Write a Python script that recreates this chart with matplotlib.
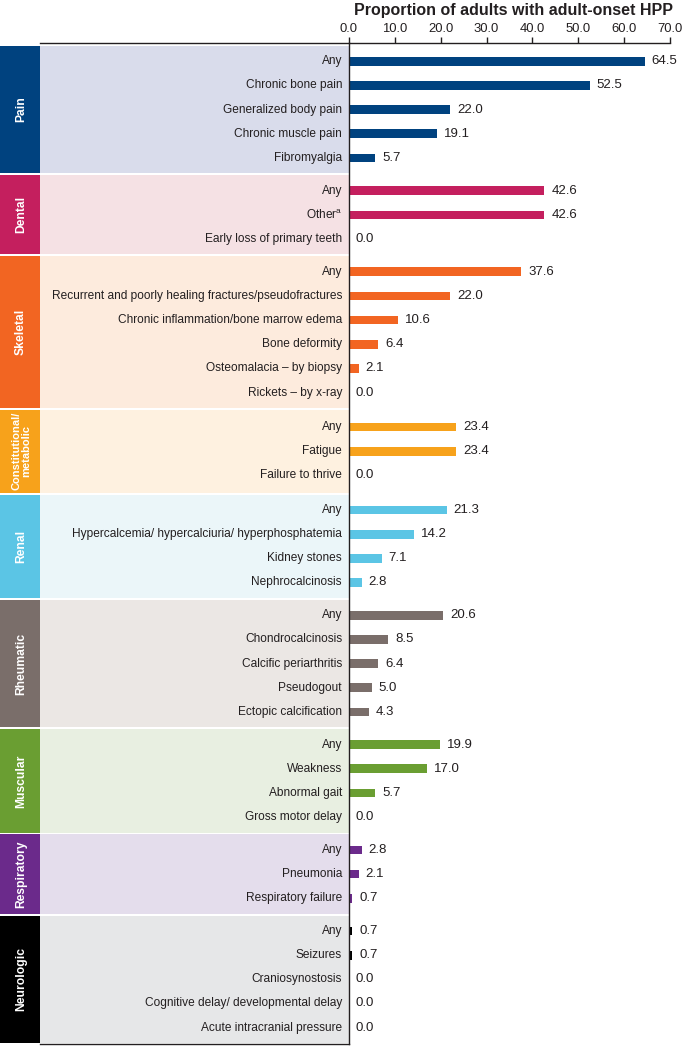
"""Adult-onset HPP: proportion of adults per symptom, grouped by body system."""
import matplotlib
matplotlib.use("Agg")
import matplotlib.pyplot as plt
from matplotlib.patches import Rectangle
import numpy as np

plt.rcParams["font.family"] = ["Liberation Sans", "DejaVu Sans"]
plt.rcParams["mathtext.fontset"] = "custom"
plt.rcParams["mathtext.rm"] = "Liberation Sans"

TEXT = "#231f20"

# ── data ─────────────────────────────────────────────────────────────────────
groups = ["Pain", "Dental", "Skeletal", "Constitutional/\nmetabolic", "Renal",
          "Rheumatic", "Muscular", "Respiratory", "Neurologic"]

pain_labels = ["Any", "Chronic bone pain", "Generalized body pain",
               "Chronic muscle pain", "Fibromyalgia"]
pain_vals = [64.5, 52.5, 22.0, 19.1, 5.7]

dental_labels = ["Any", "Other$^{\\mathrm{a}}$", "Early loss of primary teeth"]
dental_vals = [42.6, 42.6, 0.0]

skeletal_labels = ["Any", "Recurrent and poorly healing fractures/pseudofractures",
                   "Chronic inflammation/bone marrow edema", "Bone deformity",
                   "Osteomalacia – by biopsy", "Rickets – by x-ray"]
skeletal_vals = [37.6, 22.0, 10.6, 6.4, 2.1, 0.0]

constit_labels = ["Any", "Fatigue", "Failure to thrive"]
constit_vals = [23.4, 23.4, 0.0]

renal_labels = ["Any", "Hypercalcemia/ hypercalciuria/ hyperphosphatemia",
                "Kidney stones", "Nephrocalcinosis"]
renal_vals = [21.3, 14.2, 7.1, 2.8]

rheum_labels = ["Any", "Chondrocalcinosis", "Calcific periarthritis",
                "Pseudogout", "Ectopic calcification"]
rheum_vals = [20.6, 8.5, 6.4, 5.0, 4.3]

muscular_labels = ["Any", "Weakness", "Abnormal gait", "Gross motor delay"]
muscular_vals = [19.9, 17.0, 5.7, 0.0]

resp_labels = ["Any", "Pneumonia", "Respiratory failure"]
resp_vals = [2.8, 2.1, 0.7]

neuro_labels = ["Any", "Seizures", "Craniosynostosis",
                "Cognitive delay/ developmental delay", "Acute intracranial pressure"]
neuro_vals = [0.7, 0.7, 0.0, 0.0, 0.0]

dark = ["#00427f", "#c41f5e", "#f26522", "#f7a21b", "#5bc5e5",
        "#7a6e6a", "#6a9e32", "#6b2a8b", "#000000"]
light = ["#d9dceb", "#f5e1e4", "#fdebdd", "#fef1e0", "#ebf6f9",
         "#ebe7e4", "#e8efe1", "#e4ddec", "#e6e7e8"]

all_labels = [pain_labels, dental_labels, skeletal_labels, constit_labels,
              renal_labels, rheum_labels, muscular_labels, resp_labels, neuro_labels]
all_vals = [pain_vals, dental_vals, skeletal_vals, constit_vals,
            renal_vals, rheum_vals, muscular_vals, resp_vals, neuro_vals]

# ── layout (row units, y grows downward) ─────────────────────────────────────
PAD = 0.68
y = 0.08
boxes, rows = [], []
for g, labs in enumerate(all_labels):
    extra = 0.15 if g == 3 else 0.0
    h = len(labs) - 1 + 2 * PAD + extra
    boxes.append((y, h))
    rows.append(y + PAD + extra / 2 + np.arange(len(labs)))
    y += h
total = y

W, H = 685, 1046
fig = plt.figure(figsize=(W / 100, H / 100), dpi=100)
top_px, bot_px, spine_px, right_px = 43, 1044, 349, 670
ax_h = (bot_px - top_px) / H
axL = fig.add_axes([0, 1 - bot_px / H, spine_px / W, ax_h])
ax = fig.add_axes([spine_px / W, 1 - bot_px / H, (right_px - spine_px) / W, ax_h])

# left panel
axL.set_xlim(0, spine_px)
axL.set_ylim(total, 0)
axL.axis("off")
gap = 0.04
for g, (y0, h) in enumerate(boxes):
    axL.add_patch(Rectangle((0, y0 + gap), 40, h - 2 * gap, fc=dark[g], ec="none"))
    axL.add_patch(Rectangle((40, y0 + gap), spine_px - 40, h - 2 * gap,
                            fc=light[g], ec="none"))
    axL.text(21, y0 + h / 2, groups[g], rotation=90, color="white",
             fontsize=8.0 if "\n" in groups[g] else 8.7, fontweight="bold",
             ha="center", va="center", multialignment="center", linespacing=1.0)
    for lab, yy in zip(all_labels[g], rows[g]):
        axL.text(342, yy, lab, ha="right", va="center", fontsize=8.6, color=TEXT)
axL.plot([40, spine_px], [0, 0], color="#231f20", lw=1, clip_on=False)
axL.plot([40, spine_px], [total, total], color="#231f20", lw=1, clip_on=False)

# bars
for g in range(len(groups)):
    ax.barh(rows[g], all_vals[g], height=0.36, color=dark[g])
    for v, yy in zip(all_vals[g], rows[g]):
        ax.annotate(f"{v:.1f}", (v, yy), xytext=(5, 0), textcoords="offset points",
                    ha="left", va="center", fontsize=9.5, color=TEXT,
                    annotation_clip=False)

ax.set_xlim(0, 70)
ax.set_ylim(total, 0)
ax.set_xticks(np.arange(0, 71, 10))
ax.xaxis.set_major_formatter(matplotlib.ticker.FormatStrFormatter("%.1f"))
ax.xaxis.tick_top()
ax.tick_params(axis="x", direction="out", length=4, width=1, pad=2,
               labelsize=9.4, colors=TEXT)
ax.set_yticks([])
for s in ("right", "bottom"):
    ax.spines[s].set_visible(False)
for s in ("left", "top"):
    ax.spines[s].set_color("#231f20")
    ax.spines[s].set_linewidth(1)
ax.patch.set_alpha(0)

fig.text(513 / W, 1 - 10 / H, "Proportion of adults with adult-onset HPP",
         ha="center", va="center", fontsize=11.5, fontweight="bold", color=TEXT)

fig.savefig("out.png", dpi=100, facecolor="white")
